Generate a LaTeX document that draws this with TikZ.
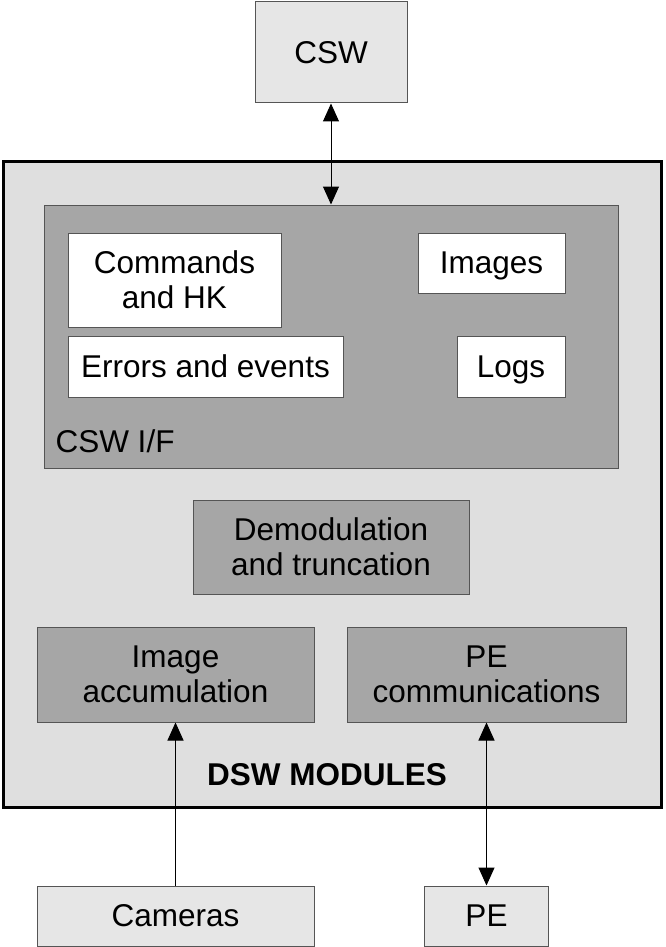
\documentclass[tikz,border=0pt]{standalone}
\usepackage{fontspec}
\setmainfont{Liberation Sans}
\usepackage{tikz}
\usetikzlibrary{arrows.meta,positioning}

\definecolor{outerfill}{HTML}{DFDFDF}
\definecolor{modfill}{HTML}{A6A6A6}
\definecolor{extfill}{HTML}{E6E6E6}
\definecolor{edge}{HTML}{555555}

\begin{document}
\begin{tikzpicture}[
  x=1pt, y=-1pt,
  every node/.style={font=\fontsize{31.5}{35}\selectfont},
  box/.style={draw=edge, line width=1pt, align=center, inner sep=0pt},
  ext/.style={box, fill=extfill},
  mod/.style={box, fill=modfill},
  item/.style={box, fill=white},
  arr/.style={{Triangle[length=18pt,width=16pt]}-{Triangle[length=18pt,width=16pt]}, line width=1pt},
  uarr/.style={-{Triangle[length=18pt,width=16pt]}, line width=1pt}
]
\useasboundingbox (0,0) rectangle (665,947);

% external blocks
\node[ext, minimum width=152pt, minimum height=101pt] (csw) at (331,52.5) {CSW};
\node[ext, minimum width=277pt, minimum height=60pt] (cams) at (175.5,916) {Cameras};
\node[ext, minimum width=124pt, minimum height=60pt] (pe) at (486.5,916) {PE};

% DSW container
\node[draw=black, line width=3pt, fill=outerfill, minimum width=658pt, minimum height=646pt, inner sep=0pt] (dsw) at (332,484) {};
\node[font=\fontsize{31.5}{35}\selectfont\bfseries] (dswlabel) at (327,775) {DSW MODULES};

% CSW interface
\node[mod, minimum width=574pt, minimum height=263pt] (cswif) at (331,336.5) {};
\node[anchor=west] (ciflabel) at (52,441) {CSW I/F};
\node[item, minimum width=213pt, minimum height=94pt] (cmd) at (174.5,280) {Commands\\and HK};
\node[item, minimum width=275pt, minimum height=61pt] (err) at (205.5,366.5) {Errors and events};
\node[item, minimum width=147pt, minimum height=60pt, text depth=0pt] (imgs) at (491.5,263) {Images};
\node[item, minimum width=108pt, minimum height=61pt, text depth=0pt] (logs) at (511,366.5) {Logs};

% processing modules
\node[mod, minimum width=276pt, minimum height=94pt] (demod) at (331,547) {Demodulation\\and truncation};
\node[mod, minimum width=277pt, minimum height=95pt] (accum) at (175.5,674.5) {Image\\accumulation};
\node[mod, minimum width=279pt, minimum height=95pt] (pecomm) at (486.5,674.5) {PE\\communications};

\draw[arr] (csw) -- (cswif);
\draw[uarr] (cams) -- (accum);
\draw[arr] (pecomm) -- (pe);
\end{tikzpicture}
\end{document}
